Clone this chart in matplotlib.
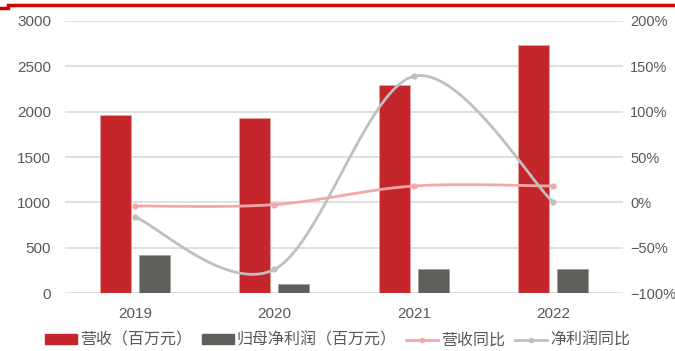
import numpy as np
import matplotlib
matplotlib.use("Agg")
import matplotlib.pyplot as plt
from matplotlib.lines import Line2D

plt.rcParams['font.family'] = ['Liberation Sans', 'Noto Sans CJK SC', 'DejaVu Sans']

# Data
years = ["2019", "2020", "2021", "2022"]
revenue = [1965, 1930, 2295, 2735]          # 营收（百万元）
net_profit = [416, 103, 265, 265]           # 归母净利润（百万元）
revenue_yoy = [-4, -2.5, 18, 18]            # 营收同比 (%)
profit_yoy = [-16, -74, 139, 0]             # 净利润同比 (%)

RED = "#C4262B"
DARK = "#5F5E5B"
PINK = "#F4A7A7"
LGRAY = "#BFBFBF"
GRID = "#D9D9D9"
TXT = "#595959"


def smooth(xs, ys, n=40):
    # Excel-style smoothed line: cubic Bezier through points (Catmull-Rom tangents)
    p = np.column_stack([xs, ys]).astype(float)
    ext = np.vstack([p[0], p, p[-1]])
    out = []
    for i in range(len(p) - 1):
        p0, p1 = ext[i + 1], ext[i + 2]
        c1 = p0 + (ext[i + 2] - ext[i]) / 6
        c2 = p1 - (ext[i + 3] - ext[i + 1]) / 6
        t = np.linspace(0, 1, n)[:, None]
        seg = (1 - t) ** 3 * p0 + 3 * (1 - t) ** 2 * t * c1 + 3 * (1 - t) * t ** 2 * c2 + t ** 3 * p1
        out.append(seg)
    s = np.vstack(out)
    return s[:, 0], s[:, 1]


fig = plt.figure(figsize=(6.75, 3.51), dpi=100)
ax = fig.add_axes([0.0963, 0.1652, 0.8267, 0.775])
ax2 = ax.twinx()

x = np.arange(len(years))
w = 0.22
ax.bar(x - 0.14, revenue, w, color=RED, edgecolor="#E8A0A0", linewidth=0.6, zorder=2, label="营收（百万元）")
ax.bar(x + 0.14, net_profit, w, color=DARK, edgecolor="#A0A0A0", linewidth=0.6, zorder=2, label="归母净利润（百万元）")

ax.set_ylim(0, 3000)
ax.set_yticks(range(0, 3001, 500))
ax.set_xlim(-0.5, 3.5)
ax.set_xticks(x)
ax.set_xticklabels(years)
ax.grid(axis="y", color=GRID, linewidth=1.2, zorder=0)
ax.set_axisbelow(True)

sx, sy = smooth(x, revenue_yoy)
ax2.plot(sx, sy, color=PINK, linewidth=2, zorder=3)
ax2.plot(x, revenue_yoy, "o", color=PINK, markersize=3.5, zorder=3)
sx, sy = smooth(x, profit_yoy)
ax2.plot(sx, sy, color=LGRAY, linewidth=2, zorder=3)
ax2.plot(x, profit_yoy, "o", color=LGRAY, markersize=3.5, zorder=3)
ax2.set_ylim(-100, 200)
ax2.set_yticks(range(-100, 201, 50))
ax2.set_yticklabels([f"{v}%".replace("-", "\u2212") for v in range(-100, 201, 50)])

for a in (ax, ax2):
    for s in a.spines.values():
        s.set_visible(False)
    a.tick_params(length=0, labelsize=11, labelcolor=TXT)
ax.tick_params(axis="x", pad=10)
ax.tick_params(axis="y", pad=10)
ax2.tick_params(axis="y", pad=5, labelsize=10.5)

handles = [
    plt.Rectangle((0, 0), 1, 1, color=RED),
    plt.Rectangle((0, 0), 1, 1, color=DARK),
    Line2D([], [], color=PINK, linewidth=2, marker="o", markersize=3),
    Line2D([], [], color=LGRAY, linewidth=2, marker="o", markersize=3),
]
labels = ["营收（百万元）", "归母净利润（百万元）", "营收同比", "净利润同比"]
fig.legend(handles, labels, loc="lower center", bbox_to_anchor=(0.5, -0.035), ncol=4, frameon=False,
           prop={"family": ["Noto Sans CJK SC", "DejaVu Sans"], "size": 11.5},
           handlelength=2.0, handleheight=0.6, handletextpad=0.2, columnspacing=0.6, labelcolor=TXT)

# header rule
fig.add_artist(Line2D([0.012, 1.0], [0.985, 0.985], color="#D00000", linewidth=2.5, transform=fig.transFigure))
fig.add_artist(Line2D([0.0, 0.012], [0.978, 0.978], color="#D00000", linewidth=2.5, transform=fig.transFigure))

fig.savefig("out.png", dpi=100)
